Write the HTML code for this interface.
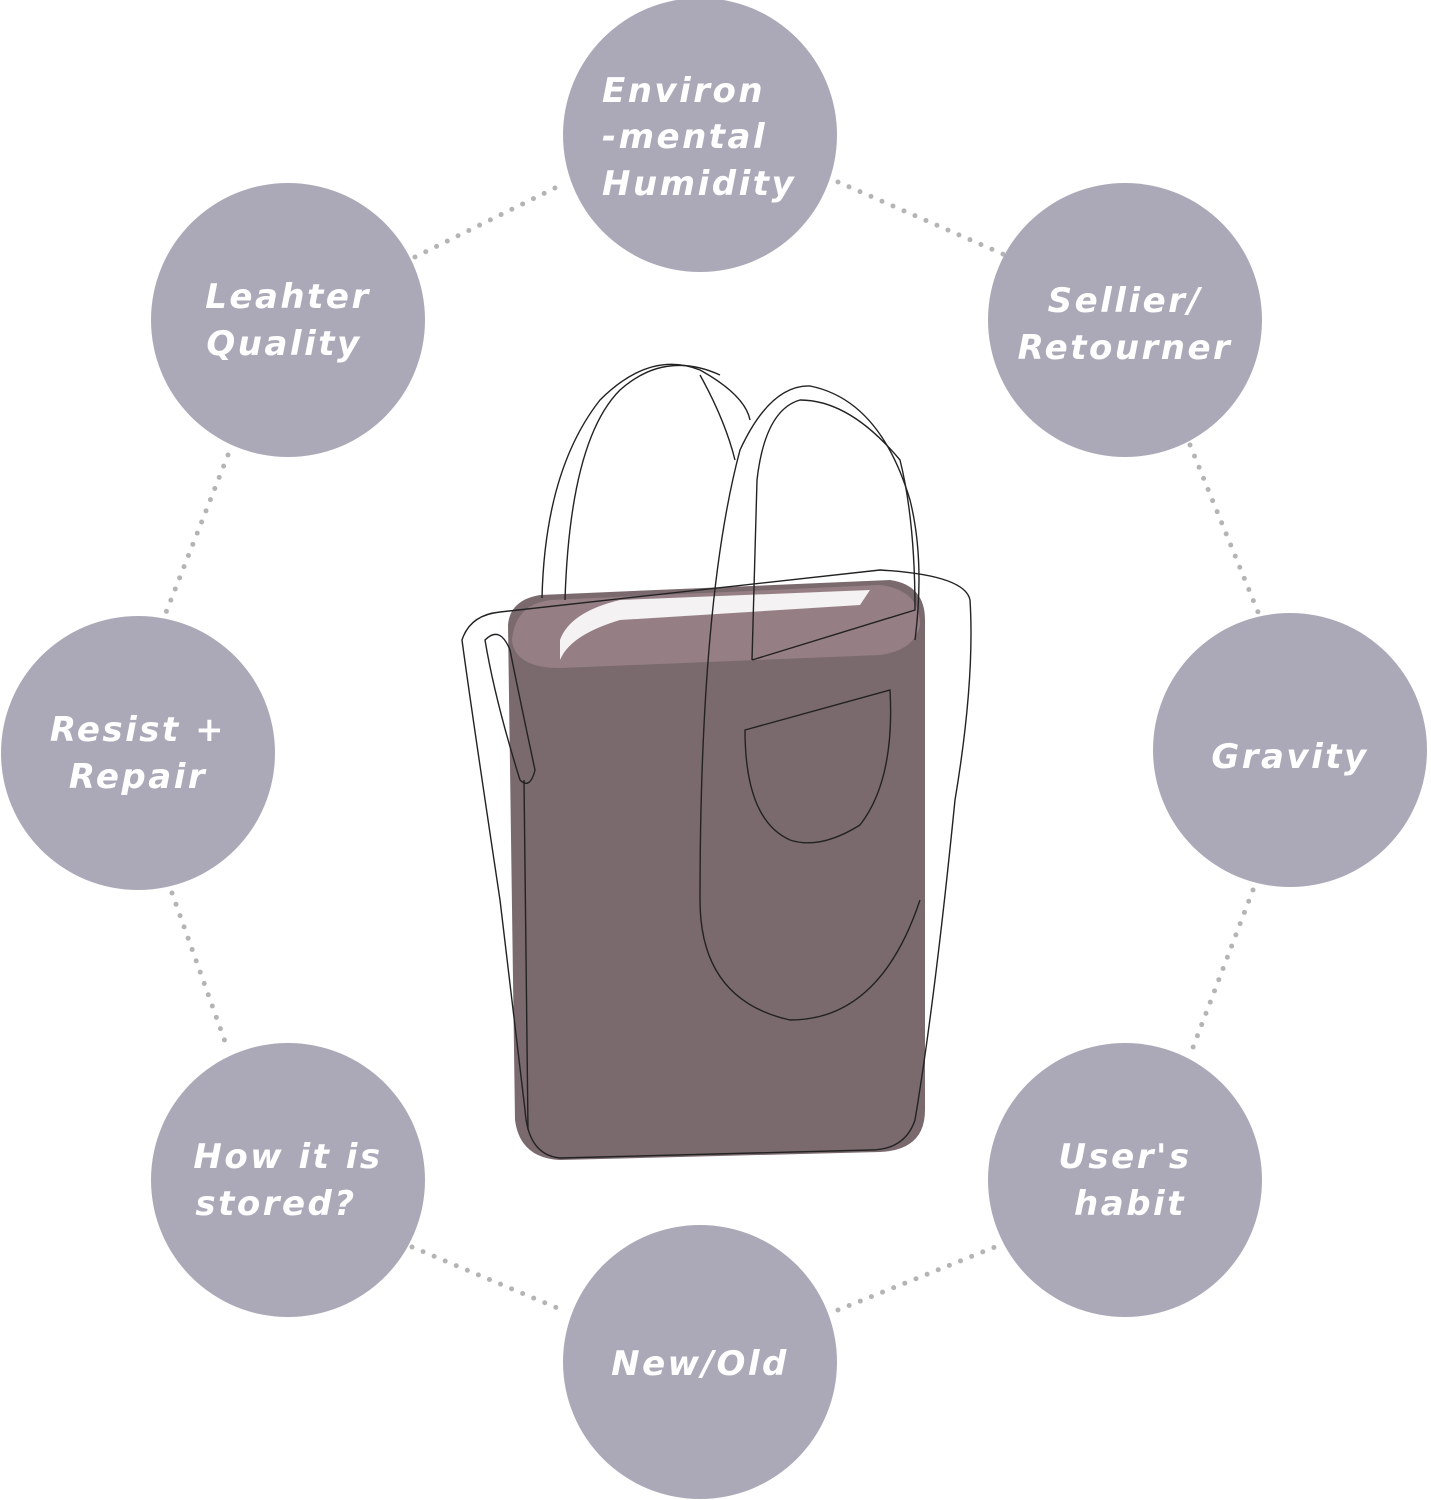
<!DOCTYPE html>
<html><head><meta charset="utf-8"><style>
html,body{margin:0;padding:0;background:#fff;}
body{width:1431px;height:1500px;overflow:hidden;position:relative;}
svg{position:absolute;left:0;top:0;}
.t{font-family:"DejaVu Sans","Liberation Sans",sans-serif;font-weight:bold;font-style:italic;font-size:34px;fill:#fff;letter-spacing:2.5px;}
</style></head><body>
<svg width="1431" height="1500" viewBox="0 0 1431 1500">
<g stroke="#b4b4b4" stroke-width="5" stroke-linecap="round" stroke-dasharray="0 12" fill="none">
<line x1="415" y1="257" x2="555" y2="188"/>
<line x1="838" y1="182" x2="1005" y2="255"/>
<line x1="228" y1="455" x2="165" y2="615"/>
<line x1="1190" y1="445" x2="1258" y2="612"/>
<line x1="172" y1="893" x2="228" y2="1050"/>
<line x1="1253" y1="890" x2="1192" y2="1050"/>
<line x1="412" y1="1247" x2="562" y2="1310"/>
<line x1="838" y1="1310" x2="1000" y2="1245"/>
</g>
<g fill="#aba9b8">
<circle cx="700" cy="135" r="137"/>
<circle cx="288" cy="320" r="137"/>
<circle cx="1125" cy="320" r="137"/>
<circle cx="138" cy="753" r="137"/>
<circle cx="1290" cy="750" r="137"/>
<circle cx="288" cy="1180" r="137"/>
<circle cx="1125" cy="1180" r="137"/>
<circle cx="700" cy="1362" r="137"/>
</g>
<text class="t" x="602" y="102">Environ</text>
<text class="t" x="602" y="148">-mental</text>
<text class="t" x="602" y="195">Humidity</text>
<text class="t" x="288" y="308" text-anchor="middle">Leahter</text>
<text class="t" x="284" y="355" text-anchor="middle">Quality</text>
<text class="t" x="1125" y="312" text-anchor="middle">Sellier/</text>
<text class="t" x="1125" y="359" text-anchor="middle">Retourner</text>
<text class="t" x="138" y="741" text-anchor="middle">Resist +</text>
<text class="t" x="138" y="788" text-anchor="middle">Repair</text>
<text class="t" x="1290" y="768" text-anchor="middle">Gravity</text>
<text class="t" x="288" y="1168" text-anchor="middle">How it is</text>
<text class="t" x="276" y="1215" text-anchor="middle">stored?</text>
<text class="t" x="1125" y="1168" text-anchor="middle">User's</text>
<text class="t" x="1130" y="1215" text-anchor="middle">habit</text>
<text class="t" x="700" y="1375" text-anchor="middle">New/Old</text>
<!-- bag -->
<path d="M508 625 Q510 600 540 595 L890 580 Q925 585 925 620 L925 1110 Q925 1150 880 1152 L560 1160 Q520 1158 515 1120 Z" fill="#7a6a6e"/>
<path d="M512 640 Q515 605 550 600 L880 585 Q920 590 920 625 Q915 650 880 655 L560 668 Q515 668 512 640Z" fill="#957f85"/>
<path d="M560 640 Q570 612 620 600 L870 590 L860 605 L620 620 Q570 635 560 660Z" fill="#f4f2f2"/>
<g fill="none" stroke="#222" stroke-width="1.4">
<path d="M462 640 Q470 615 500 612 L880 570 Q965 575 970 600 Q975 680 955 800 Q935 1000 915 1120 Q905 1150 870 1150 L560 1158 Q528 1155 525 1110 L500 900 Q470 700 462 640Z"/>
<path d="M542 598 Q545 470 600 400 Q650 350 700 370 Q745 395 750 420"/>
<path d="M565 600 Q570 440 620 390 Q665 350 720 375"/>
<path d="M700 375 Q725 420 735 460"/>
<path d="M700 900 Q700 600 740 450 Q770 385 810 386 Q880 400 910 500 Q925 560 915 640"/>
<path d="M700 900 Q700 1000 790 1020 Q880 1020 920 900"/>
<path d="M752 660 L757 480 Q765 410 800 400 Q850 400 900 460 Q915 520 915 610 L752 660"/>
<path d="M745 730 L890 690 Q895 780 860 825 Q820 850 790 840 Q745 820 745 730Z"/>
<path d="M485 640 Q500 625 510 650 Q520 700 535 770 Q530 790 520 780 Q495 700 485 640Z"/>
<path d="M524 780 L528 1130"/>
</g>
</svg>
</body></html>
